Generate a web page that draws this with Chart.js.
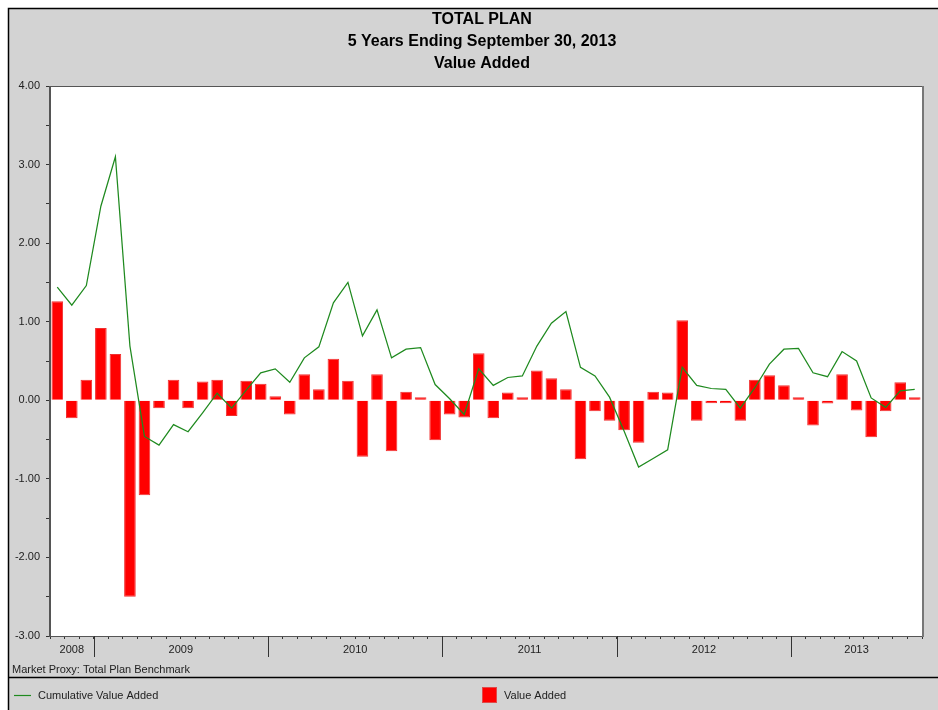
<!DOCTYPE html>
<html>
<head>
<meta charset="utf-8">
<script src="https://cdn.jsdelivr.net/npm/chart.js@4.4.0/dist/chart.umd.min.js"></script>
<style>
html,body{margin:0;padding:0;background:#fff;}
#wrap{position:relative;width:938px;height:710px;}
canvas{display:block;}
</style>
</head>
<body>
<div id="wrap"><canvas id="c" width="938" height="710"></canvas></div>
<script>
// ---- data ----
const titleLines = ['TOTAL PLAN', '5 Years Ending September 30, 2013', 'Value Added'];
const footnote = 'Market Proxy: Total Plan Benchmark';
const years = ['2008', '2009', '2010', '2011', '2012', '2013'];
const monthsPerYear = [3, 12, 12, 12, 12, 9];
const monthNames = ['Jan','Feb','Mar','Apr','May','Jun','Jul','Aug','Sep','Oct','Nov','Dec'];
const firstMonthIndex = 9; // October 2008
const yTickLabels = [4, 3, 2, 1, 0, -1, -2, -3];
const seriesNames = ['Cumulative Value Added', 'Value Added'];

const valueAdded = [
  1.26, -0.23, 0.26,
  0.92, 0.59, -2.50, -1.21, -0.10, 0.26, -0.10, 0.24, 0.26, -0.20, 0.25, 0.21,
  0.05, -0.18, 0.33, 0.14, 0.53, 0.25, -0.72, 0.33, -0.65, 0.11, 0.03, -0.51,
  -0.18, -0.22, 0.60, -0.23, 0.10, 0.03, 0.38, 0.28, 0.14, -0.75, -0.14, -0.26,
  -0.38, -0.54, 0.11, 0.10, 1.02, -0.26, -0.03, -0.02, -0.26, 0.26, 0.32, 0.19,
  0.02, -0.32, -0.04, 0.33, -0.13, -0.47, -0.14, 0.23, 0.02
];
const cumulativeValueAdded = [
  1.44, 1.21, 1.46,
  2.47, 3.10, 0.69, -0.46, -0.57, -0.31, -0.40, -0.16, 0.09, -0.10, 0.13, 0.35,
  0.40, 0.23, 0.54, 0.68, 1.24, 1.50, 0.82, 1.15, 0.54, 0.65, 0.67, 0.20,
  0.02, -0.18, 0.40, 0.19, 0.29, 0.31, 0.69, 0.98, 1.13, 0.42, 0.31, 0.04,
  -0.39, -0.85, -0.74, -0.63, 0.42, 0.19, 0.15, 0.14, -0.10, 0.16, 0.46, 0.65,
  0.66, 0.35, 0.30, 0.62, 0.50, 0.03, -0.09, 0.12, 0.14
];

// ---- build categories ----
const categories = [];
let mIdx = firstMonthIndex;
years.forEach((y, k) => {
  for (let j = 0; j < monthsPerYear[k]; j++) {
    categories.push(monthNames[mIdx % 12] + ' ' + y);
    mIdx++;
  }
});

const FONT = '"Liberation Sans", Arial, sans-serif';
const BG = '#d3d3d3';
const LINE_COLOR = '#1f8a1f';
const BAR_COLOR = '#ff0000';

const framePlugin = {
  id: 'frame',
  beforeDraw(chart) {
    const ctx = chart.ctx, W = chart.width, H = chart.height, a = chart.chartArea;
    ctx.save();
    ctx.fillStyle = '#ffffff';
    ctx.fillRect(0, 0, W, H);
    ctx.fillStyle = BG;
    ctx.fillRect(9, 9, W - 9, H - 9);
    ctx.strokeStyle = '#000';
    ctx.lineWidth = 1.5;
    ctx.beginPath();
    ctx.moveTo(8.5, H); ctx.lineTo(8.5, 8.5); ctx.lineTo(W, 8.5);
    ctx.stroke();
    // plot background
    ctx.fillStyle = '#ffffff';
    ctx.fillRect(a.left, a.top, a.right - a.left, a.bottom - a.top);
    // titles
    ctx.fillStyle = '#000';
    ctx.font = 'bold 16px ' + FONT;
    ctx.textAlign = 'center';
    ctx.textBaseline = 'middle';
    const cx = 482;
    const ys = [19.5, 42, 63.5];
    titleLines.forEach((t, i) => ctx.fillText(t, cx, ys[i]));
    ctx.restore();
  },
  afterDraw(chart) {
    const ctx = chart.ctx, W = chart.width, a = chart.chartArea;
    const xs = chart.scales.x;
    ctx.save();
    // plot frame
    ctx.lineWidth = 1;
    ctx.strokeStyle = '#555';
    ctx.beginPath();
    ctx.moveTo(a.left, a.top + 0.5); ctx.lineTo(a.right, a.top + 0.5);
    ctx.moveTo(a.left, a.bottom + 0.5); ctx.lineTo(a.right + 1, a.bottom + 0.5);
    ctx.stroke();
    ctx.lineWidth = 2;
    ctx.strokeStyle = '#555';
    ctx.beginPath();
    ctx.moveTo(a.left, a.top); ctx.lineTo(a.left, a.bottom + 1);
    ctx.stroke();
    ctx.strokeStyle = '#777';
    ctx.beginPath();
    ctx.moveTo(a.right + 1, a.top); ctx.lineTo(a.right + 1, a.bottom + 1);
    ctx.stroke();

    // year separators and labels
    const bounds = [a.left];
    let acc = 0;
    monthsPerYear.forEach((n) => {
      acc += n;
      if (acc < categories.length) {
        bounds.push((xs.getPixelForValue(acc - 1) + xs.getPixelForValue(acc)) / 2);
      } else {
        bounds.push(a.right);
      }
    });
    ctx.strokeStyle = '#333';
    ctx.lineWidth = 1;
    ctx.beginPath();
    for (let k = 1; k < bounds.length - 1; k++) {
      const bx = Math.round(bounds[k]) + 0.5;
      ctx.moveTo(bx, a.bottom); ctx.lineTo(bx, a.bottom + 21);
    }
    ctx.stroke();
    ctx.fillStyle = '#222';
    ctx.font = '11px ' + FONT;
    ctx.textAlign = 'center';
    ctx.textBaseline = 'middle';
    years.forEach((y, k) => ctx.fillText(y, (bounds[k] + bounds[k + 1]) / 2, 650));

    // footnote
    ctx.textAlign = 'left';
    ctx.fillText(footnote, 12, 670);

    // separator line
    ctx.strokeStyle = '#000';
    ctx.lineWidth = 1.5;
    ctx.beginPath();
    ctx.moveTo(9, 677.5); ctx.lineTo(W, 677.5);
    ctx.stroke();

    // legend
    const ds = chart.data.datasets;
    ctx.strokeStyle = ds[0].borderColor;
    ctx.lineWidth = 1.2;
    ctx.beginPath();
    ctx.moveTo(14, 695.5); ctx.lineTo(31, 695.5);
    ctx.stroke();
    ctx.fillStyle = '#222';
    ctx.fillText(ds[0].label, 38, 695.5);
    ctx.fillStyle = ds[1].backgroundColor;
    ctx.fillRect(483, 688, 13, 14);
    ctx.strokeStyle = '#e04a4a';
    ctx.lineWidth = 1;
    ctx.strokeRect(482.5, 687.5, 14, 15);
    ctx.fillStyle = '#222';
    ctx.fillText(ds[1].label, 504, 695.5);
    ctx.restore();
  }
};

new Chart(document.getElementById('c'), {
  type: 'bar',
  data: {
    labels: categories,
    datasets: [
      {
        type: 'line', label: seriesNames[0], data: cumulativeValueAdded,
        borderColor: LINE_COLOR, backgroundColor: LINE_COLOR, borderWidth: 1.25,
        pointRadius: 0, tension: 0, fill: false, order: 0
      },
      {
        type: 'bar', label: seriesNames[1], data: valueAdded,
        backgroundColor: BAR_COLOR, borderColor: '#f03030', borderWidth: 1,
        barPercentage: 0.8, categoryPercentage: 1.0, minBarLength: 3, order: 1
      }
    ]
  },
  options: {
    responsive: false,
    animation: false,
    devicePixelRatio: 1,
    layout: { padding: { left: 0, right: 16, top: 86, bottom: 0 } },
    plugins: { legend: { display: false }, title: { display: false }, tooltip: { enabled: false } },
    scales: {
      x: {
        type: 'category', offset: true,
        grid: { display: true, drawOnChartArea: false, drawTicks: true, tickLength: 3, color: '#333', offset: true },
        border: { display: false },
        ticks: { display: false },
        afterFit(s) { s.height = 74; }
      },
      y: {
        min: -3, max: 4,
        afterBuildTicks(s) {
          const t = [];
          for (let i = 0; i < yTickLabels.length; i++) {
            t.push({ value: yTickLabels[i] });
            if (i < yTickLabels.length - 1) t.push({ value: (yTickLabels[i] + yTickLabels[i + 1]) / 2 });
          }
          s.ticks = t.sort((p, q) => p.value - q.value);
        },
        ticks: {
          callback: v => (yTickLabels.includes(v) ? v.toFixed(2) : ''),
          padding: 6, color: '#222', font: { family: FONT, size: 11 }
        },
        grid: { drawOnChartArea: false, drawTicks: true, tickLength: 4, color: '#333' },
        border: { display: false },
        afterFit(s) { s.width = 50; }
      }
    }
  },
  plugins: [framePlugin]
});
</script>
</body>
</html>
